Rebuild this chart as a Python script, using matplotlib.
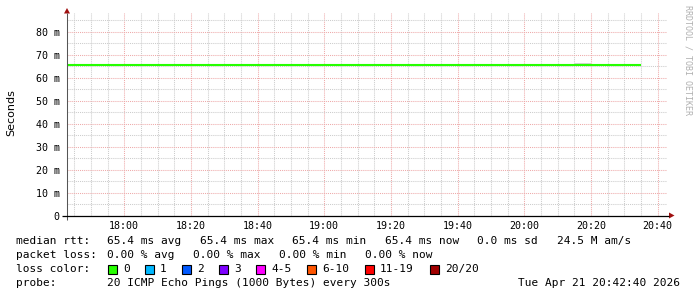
import matplotlib
matplotlib.use('Agg')
import matplotlib.pyplot as plt
import matplotlib.dates as mdates
from matplotlib.ticker import MultipleLocator, FixedLocator, FuncFormatter
from matplotlib.patches import Rectangle, Polygon
from matplotlib.lines import Line2D
from datetime import datetime

# ---------------- data ----------------
day = "2026-04-21 "
window_start = "17:42:40"
window_end = "20:42:40"
rtt_times = ["17:42:40", "20:35:00"]
rtt_values = [65.4, 65.4]            # ms, median rtt (constant)
smoke_times = ["20:15:00", "20:20:00"]
smoke_low = [65.4, 65.4]
smoke_high = [66.3, 66.3]
y_ticks = [0, 10, 20, 30, 40, 50, 60, 70, 80]
y_max = 88.4

stats_rtt = ["65.4 ms avg", "65.4 ms max", "65.4 ms min", "65.4 ms now", "0.0 ms sd", "24.5 M am/s"]
stats_loss = ["0.00 % avg", "0.00 % max", "0.00 % min", "0.00 % now"]
loss_labels = ["0", "1", "2", "3", "4-5", "6-10", "11-19", "20/20"]
loss_colors = ["#26ff00", "#00b8ff", "#0059ff", "#7e00ff", "#ff00ff", "#ff5500", "#ff0000", "#a10000"]
probe_text = "20 ICMP Echo Pings (1000 Bytes) every 300s"
date_text = "Tue Apr 21 20:42:40 2026"


def t(s):
    return datetime.strptime(day + s, "%Y-%m-%d %H:%M:%S")


W, H = 697, 297
fig = plt.figure(figsize=(W / 100, H / 100), dpi=100)
fig.patch.set_facecolor('white')


def fx(x):
    return x / W


def fy(y):
    return 1 - y / H


ax_left, ax_right, ax_top, ax_bot = 66.5, 666.5, 12.5, 215.5
ax = fig.add_axes([fx(ax_left), fy(ax_bot), (ax_right - ax_left) / W, (ax_bot - ax_top) / H])
ax.set_facecolor('white')
for s in ax.spines.values():
    s.set_visible(False)

ax.set_xlim(mdates.date2num(t(window_start)), mdates.date2num(t(window_end)))
ax.set_ylim(0, y_max)

# grid
ax.xaxis.set_major_locator(mdates.MinuteLocator(byminute=[0, 20, 40]))
ax.xaxis.set_minor_locator(mdates.MinuteLocator(byminute=list(range(0, 60, 5))))
ax.xaxis.set_major_formatter(mdates.DateFormatter('%H:%M'))
ax.yaxis.set_major_locator(FixedLocator(y_ticks))
ax.yaxis.set_minor_locator(MultipleLocator(5))
ax.yaxis.set_major_formatter(FuncFormatter(lambda v, p: "0" if v == 0 else f"{int(v)} m"))

dots = (0, (1, 1))
ax.grid(which='major', color='#eeaaaa', linestyle=dots, linewidth=0.75)
ax.grid(which='minor', color='#cccccc', linestyle=dots, linewidth=0.75)
ax.set_axisbelow(True)

mono = 'DejaVu Sans Mono'
ax.tick_params(which='both', length=0)
ax.tick_params(axis='y', which='major', pad=5, labelsize=7.2, labelfontfamily=mono, labelcolor='#000000')
ax.tick_params(axis='x', which='major', pad=4, labelsize=7.2, labelfontfamily=mono, labelcolor='#000000')

# smoke + median
ax.fill_between([mdates.date2num(t(s)) for s in smoke_times], smoke_low, smoke_high,
                color='#d4d4d4', linewidth=0, zorder=3)
ax.plot([mdates.date2num(t(s)) for s in rtt_times], rtt_values, color='#26ff00',
        linewidth=1.5, solid_capstyle='butt', zorder=4)

# axes lines & arrows (in figure pixel coords)
def pxline(x0, y0, x1, y1, color, lw=1.0):
    fig.add_artist(Line2D([fx(x0), fx(x1)], [fy(y0), fy(y1)], color=color, linewidth=lw,
                          transform=fig.transFigure, solid_capstyle='butt'))

pxline(67, 219.5, 67, 13, '#555555', 0.75)
pxline(62, 215.5, 669, 215.5, '#000000', 0.9)
fig.add_artist(Polygon([[fx(64), fy(13.5)], [fx(70), fy(13.5)], [fx(67), fy(8)]], closed=True,
                       transform=fig.transFigure, fc='#a01010', ec='none'))
fig.add_artist(Polygon([[fx(669), fy(212.5)], [fx(669), fy(218.5)], [fx(674.5), fy(215.5)]], closed=True,
                       transform=fig.transFigure, fc='#a01010', ec='none'))

# y label
fig.text(fx(11), fy(113), "Seconds", rotation=90, ha='center', va='center',
         fontsize=8, family='DejaVu Sans', color='#000000')

# watermark
fig.text(fx(688), fy(60), "RRDTOOL / TOBI OETIKER", rotation=-90, ha='center', va='center',
         fontsize=6.0, family=mono, color='#b0b0b0')

# legend text
fs = 8.0
def txt(x, y, s, ha='left'):
    fig.text(fx(x), fy(y), s, ha=ha, va='center', fontsize=fs, family=mono, color='#000000')

row = [241, 255, 269, 283]
txt(16, row[0], "median rtt:")
for x, s in zip([107, 199.6, 292.2, 384.8, 477.4, 556.6], stats_rtt):
    txt(x, row[0], s)
txt(16, row[1], "packet loss:")
for x, s in zip([107, 193, 279, 365], stats_loss):
    txt(x, row[1], s)
txt(16, row[2], "loss color:")
box_x = [108, 145, 182, 219, 256, 307, 365, 430]
for bx, lab, col in zip(box_x, loss_labels, loss_colors):
    fig.add_artist(Rectangle((fx(bx), fy(273.5)), 9 / W, 9 / H, transform=fig.transFigure,
                             fc=col, ec='#000000', lw=0.8))
    txt(bx + 15, row[2], lab)
txt(16, row[3], "probe:")
txt(107, row[3], probe_text)
txt(680, row[3], date_text, ha='right')

fig.savefig('out.png', dpi=100, facecolor='white')
